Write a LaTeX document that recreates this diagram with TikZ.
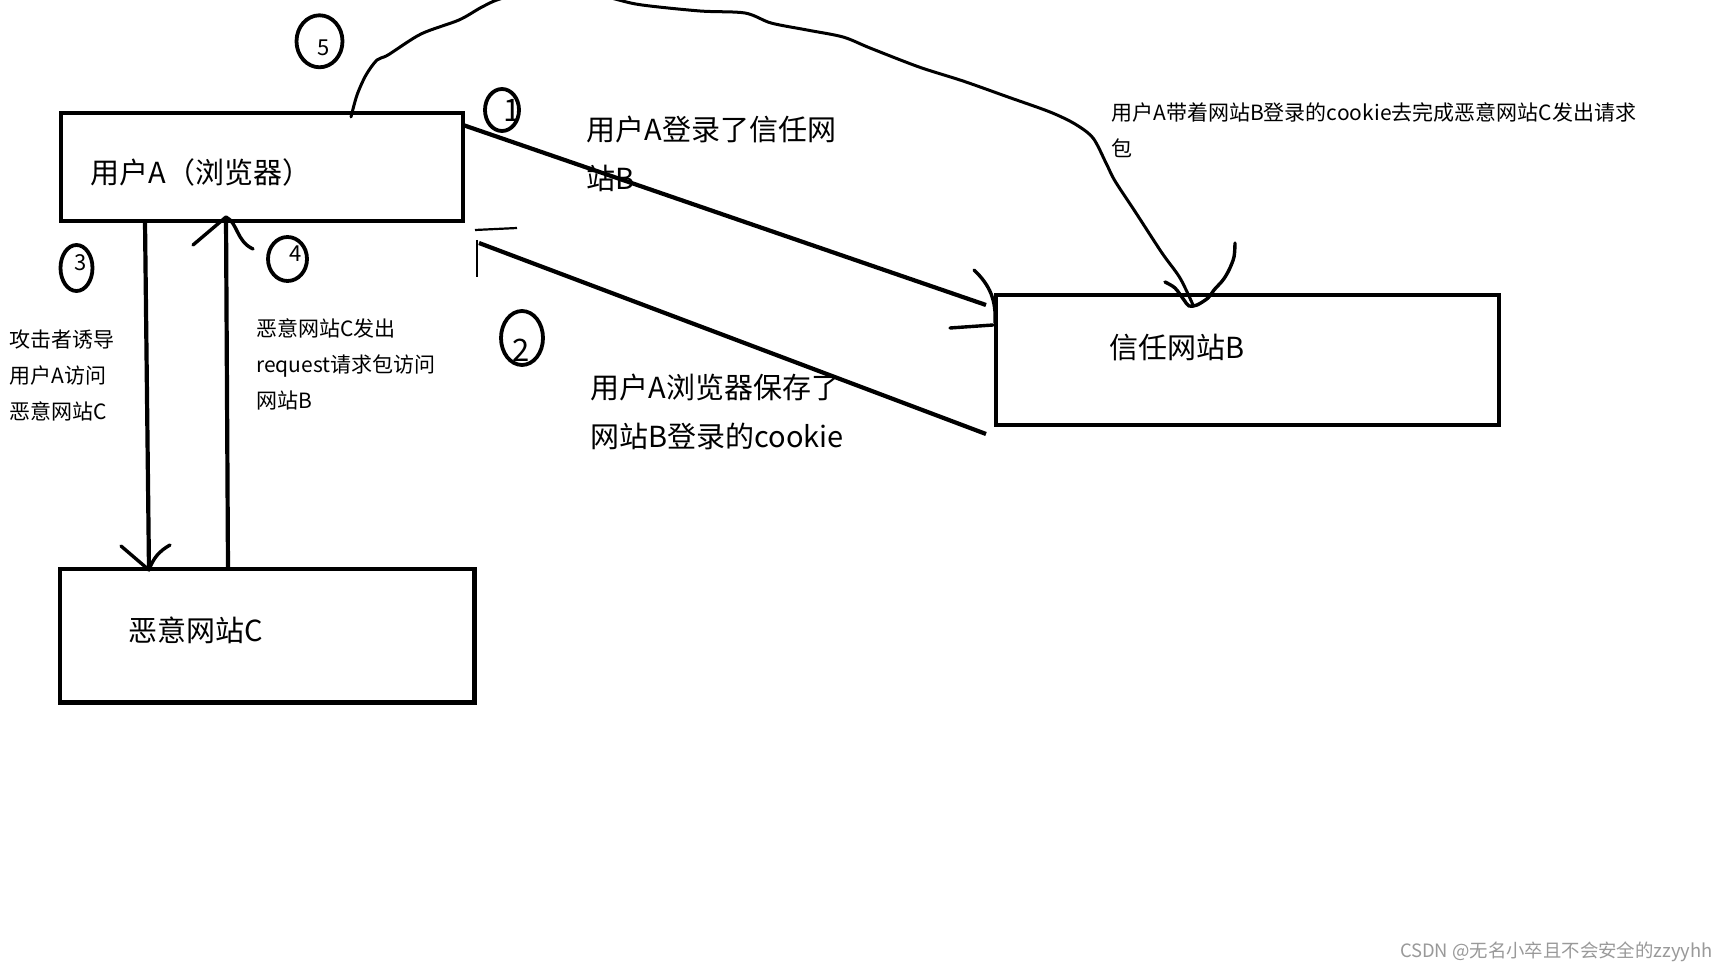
\documentclass[tikz,border=0pt]{standalone}
\usepackage{fontspec}
\newfontfamily\yahei{Noto Sans CJK SC}
\usetikzlibrary{calc}

\begin{document}
\begin{tikzpicture}[
    x=0.5pt, y=-0.5pt,
    box/.style={draw, line width=2.25pt, outer sep=0pt, anchor=north west, align=left, font=\yahei\fontsize{14.5pt}{24.5pt}\selectfont},
    bigtext/.style={anchor=west, inner sep=0pt, align=left, font=\yahei\fontsize{14.5pt}{24.5pt}\selectfont},
    smalltext/.style={anchor=west, inner sep=0pt, align=left, font=\yahei\fontsize{10.5pt}{18pt}\selectfont},
    digit/.style={inner sep=0pt, font=\yahei\fontsize{11pt}{11pt}\selectfont},
    bigdigit/.style={inner sep=0pt, font=\yahei\fontsize{15.5pt}{15.5pt}\selectfont},
    ring/.style={line width=1.9pt},
    wire/.style={line width=2.1pt},
    curvy/.style={line width=1.5pt, line cap=round, line join=round},
    pen/.style={line width=1.7pt, line cap=round, line join=round},
    hair/.style={line width=1.1pt}
]

\useasboundingbox (0,0) rectangle (1728,972);
\fill[white] (0,0) rectangle (1728,972);
\clip (0,0) rectangle (1728,972);

\node[box, minimum width=201pt, minimum height=54pt, text width=171.5pt, inner xsep=14.75pt, text height=16.3pt, text depth=0pt] (userA) at (61,113) {用户A（浏览器）};
\node[box, minimum width=251.5pt, minimum height=65pt, text width=138.5pt, inner xsep=56.5pt, text height=12pt, text depth=13.7pt] (trusted) at (996,295) {信任网站B};
\node[box, minimum width=207.25pt, minimum height=66.75pt, text width=138.75pt, inner xsep=34.25pt, text height=12pt, text depth=5.9pt] (evil) at (60,569) {恶意网站C};

\coordinate (a1) at ($(userA.north east)+(0,12)$);
\coordinate (b1) at ($(trusted.north west)+(-10,10)$);
\draw[wire] (a1) -- (b1);
\draw[pen] ($(trusted.north west)+(-22,-25)$) to[bend left=25] ($(trusted.north west)+(-1,28)$);
\draw[pen] ($(trusted.north west)+(-46,33)$) -- ($(trusted.north west)+(-3,30)$);

\coordinate (b2) at ($(trusted.south west)+(-10,9)$);
\coordinate (a2) at ($(userA.south east)+(16,22)$);
\draw[wire] (b2) -- (a2);
\draw[hair] ($(userA.south east)+(12,9)$) -- ($(userA.south east)+(54,7)$);
\draw[hair] ($(userA.south east)+(14,19)$) -- ($(userA.south east)+(14,56)$);

\coordinate (a3) at ($(userA.south west)+(84,0)$);
\coordinate (c3) at ($(evil.north west)+(89,1)$);
\draw[wire] (a3) -- (c3);
\draw[pen] ($(c3)+(-28,-24)$) -- (c3) to[bend left=20] ($(c3)+(21,-25)$);

\coordinate (c4) at ($(evil.north west)+(168,0)$);
\coordinate (a4) at ($(userA.south west)+(165,-4)$);
\draw[wire] (c4) -- (a4);
\draw[pen] ($(a4)+(-33,28)$) -- (a4) .. controls ($(a4)+(12,6)$) and ($(a4)+(10,24)$) .. ($(a4)+(27,32)$);

\coordinate (a5) at ($(userA.north west)+(290,4)$);
\coordinate (b5) at ($(trusted.north west)+(197,10)$);
\draw[curvy] plot[smooth, tension=0.5] coordinates {(a5) (357,95) (366,75) (377,60) (388,55) (421,34) (459,20) (482,7) (503,-2) (560,-16) (615,-1) (642,5) (700,11) (745,13) (771,23) (807,30) (843,37) (870,48) (919,67) (963,81) (1008,97) (1050,112) (1075,124) (1093,138) (1106,163) (1115,181) (1136,213) (1162,253) (1180,278) (b5)};
\begin{scope}[shift={(b5)}]
\draw[pen] plot[smooth] coordinates {(-28,-23) (-18,-17) (-9,-5) (-4,1) (4,0) (15,-7) (21,-15) (30,-25) (36,-35) (41,-48) (42,-62)};
\end{scope}

\node[bigtext] (t1) at (586,154) {用户A登录了信任网\\站B};
\node[bigtext] (t2) at (590,412) {用户A浏览器保存了\\网站B登录的cookie};
\node[smalltext] (t3) at (9,375.5) {攻击者诱导\\用户A访问\\恶意网站C};
\node[smalltext] (t4) at (256,364) {恶意网站C发出\\request请求包访问\\网站B};
\node[smalltext] (t5) at (1111,130) {用户A带着网站B登录的cookie去完成恶意网站C发出请求\\包};

\node[digit] (d5) at (324,48) {5};
\draw[ring] (d5) ++(-4.5,-6.7) ellipse [x radius=23, y radius=26];
\node[bigdigit] (d1) at (512,110) {1};
\draw[ring] (d1) ++(-10,0) ellipse [x radius=17, y radius=21];
\node[digit] (d3) at (81,263) {3};
\draw[ring] (d3) ++(-4.5,5) ellipse [x radius=16, y radius=23];
\node[digit] (d4) at (295.5,254) {4};
\draw[ring] (d4) ++(-8,5) ellipse [x radius=19.5, y radius=22];
\node[bigdigit] (d2) at (521.5,350) {2};
\draw[ring] (d2) ++(0.5,-12) ellipse [x radius=21, y radius=27];

\node[anchor=east, inner sep=0pt, text=black!40, font=\yahei\fontsize{9.2pt}{11pt}\selectfont] (mark) at (1713,951.5) {CSDN @无名小卒且不会安全的zzyyhh};

\end{tikzpicture}
\end{document}
